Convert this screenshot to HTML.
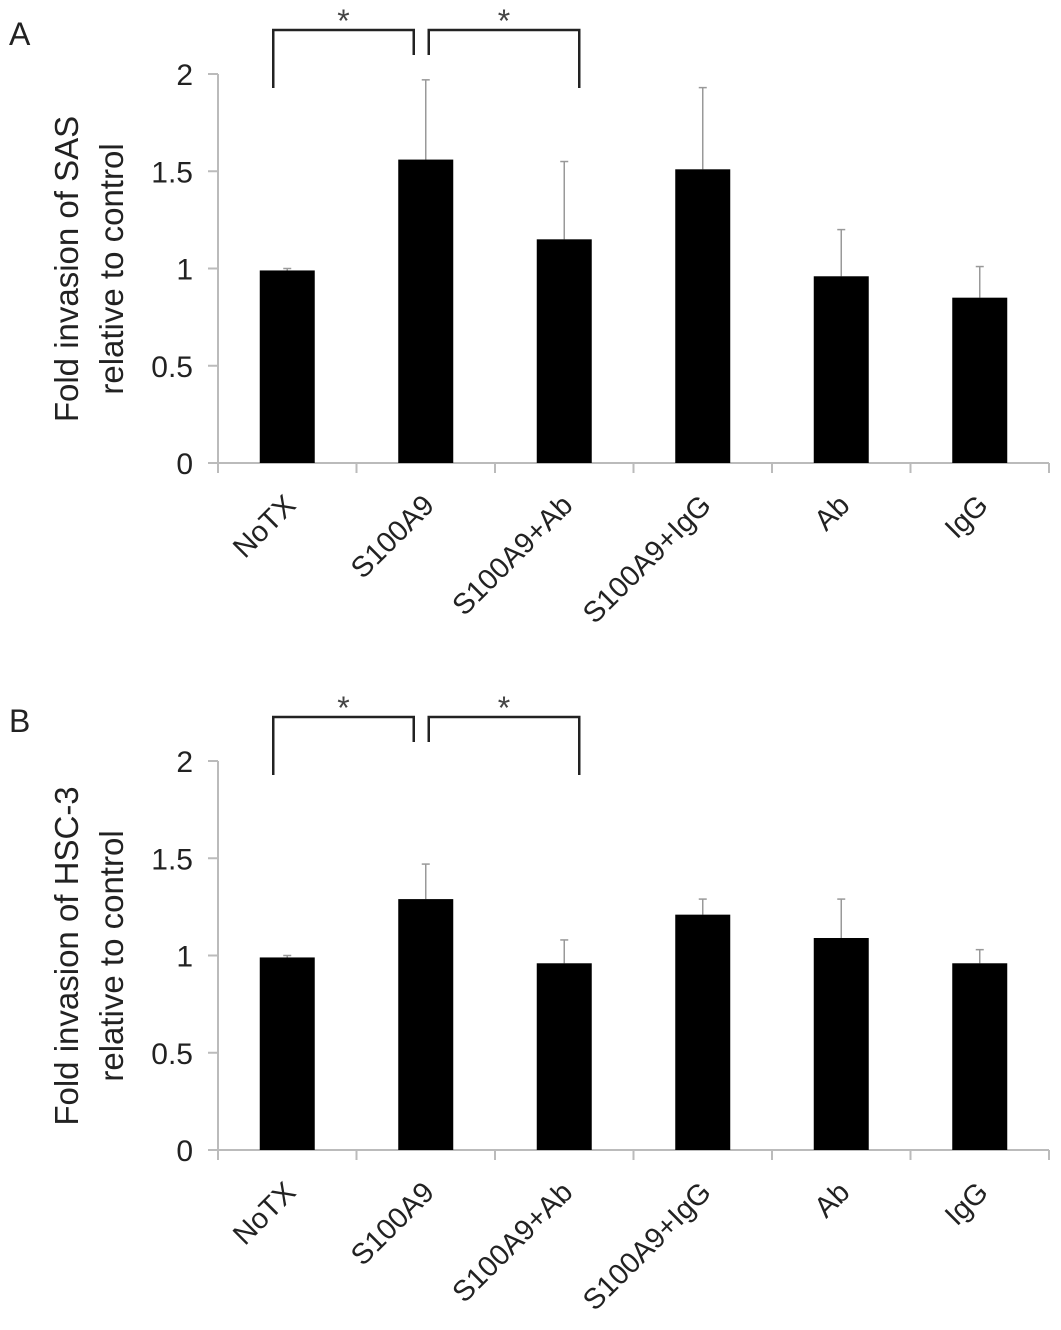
<!DOCTYPE html>
<html><head><meta charset="utf-8"><style>
body{margin:0;background:#fff}
svg{display:block;font-family:"Liberation Sans",Arial,sans-serif}
</style></head><body>
<svg id="chart" width="1061" height="1330" viewBox="0 0 1061 1330"></svg>
<script>
const categories=["NoTX","S100A9","S100A9+Ab","S100A9+IgG","Ab","IgG"];
const valuesA=[0.99,1.56,1.15,1.51,0.96,0.85];
const errorsA=[0.01,0.41,0.40,0.42,0.24,0.16];
const valuesB=[0.99,1.29,0.96,1.21,1.09,0.96];
const errorsB=[0.01,0.18,0.12,0.08,0.20,0.07];
const yTicks=[0,0.5,1,1.5,2];
const yTickLabels=["0","0.5","1","1.5","2"];
const sigPairs=[[0,1],[1,2]];

const NS="http://www.w3.org/2000/svg";
const svg=document.getElementById('chart');
function mk(tag,attrs,parent,text){const e=document.createElementNS(NS,tag);for(const k in attrs)e.setAttribute(k,attrs[k]);if(text!==undefined)e.textContent=text;parent.appendChild(e);return e;}

function panel(letter,offY,values,errors,t1,t2){
  const g=mk('g',{},svg);
  
  
  const x0=218,step=138.5,y0=463+offY,yTop=74+offY;
  const yS=v=>y0-(y0-yTop)*v/2;
  const xC=i=>x0+step*(i+0.5);
  const lt=mk('text',{x:9,y:45+offY,'font-size':32,fill:'#222'},g,letter);
  
  
  const ya=mk('line',{x1:x0,y1:yS(0),x2:x0,y2:yS(2),stroke:'#bbb','stroke-width':2},g);
  
  
  yTicks.forEach((v,i)=>{
    mk('line',{x1:x0-10,y1:yS(v),x2:x0,y2:yS(v),stroke:'#bbb','stroke-width':2},g);
    const t=mk('text',{x:193,y:yS(v)+11,'font-size':30,'text-anchor':'end',fill:'#222'},g,yTickLabels[i]);
    
    
  });
  const xa=mk('line',{x1:x0-10,y1:y0,x2:x0+step*6,y2:y0,stroke:'#bbb','stroke-width':2},g);
  
  
  for(let i=0;i<=6;i++)mk('line',{x1:x0+step*i,y1:y0,x2:x0+step*i,y2:y0+10,stroke:'#bbb','stroke-width':2},g);
  const cy=y0-194;
  const tt=mk('text',{transform:`translate(78,${cy}) rotate(-90)`,'font-size':33,'text-anchor':'middle',fill:'#222'},g,t1);
  
  
  const tt2=mk('text',{transform:`translate(123,${cy}) rotate(-90)`,'font-size':33,'text-anchor':'middle',fill:'#222'},g,t2);
  
  
  categories.forEach((c,i)=>{
    const cx=xC(i),bw=55;
    const top=yS(values[i]+errors[i]);
    const el=mk('line',{x1:cx,y1:yS(values[i]),x2:cx,y2:top,stroke:'#999','stroke-width':1.5},g);
    
    
    mk('line',{x1:cx-4,y1:top,x2:cx+4,y2:top,stroke:'#999','stroke-width':1.5},g);
    const b=mk('rect',{x:cx-bw/2,y:yS(values[i]),width:bw,height:y0-yS(values[i]),fill:'#000'},g);
    
    
    const l=mk('text',{transform:`translate(${cx+10},${y0+44}) rotate(-45)`,'font-size':29,'text-anchor':'end',fill:'#222'},g,c);
    
    
  });
  sigPairs.forEach((p,k)=>{
    const xl=k?xC(p[0])+3:xC(p[0])-14, xr=k?xC(p[1])+15:xC(p[1])-12;
    const yb=30+offY;
    const yl=k?55+offY:88+offY, yr=k?88+offY:55+offY;
    const br=mk('path',{d:`M${xl},${yl} V${yb} H${xr} V${yr}`,fill:'none',stroke:'#222','stroke-width':2.5},g);
    
    
    const s=mk('text',{x:(xl+xr)/2,y:yb+2,'font-size':32,'text-anchor':'middle',fill:'#444'},g,'*');
    
    
  });
}
panel('A',0,valuesA,errorsA,'Fold invasion of SAS','relative to control');
panel('B',687,valuesB,errorsB,'Fold invasion of HSC-3','relative to control');
</script>
</body></html>
